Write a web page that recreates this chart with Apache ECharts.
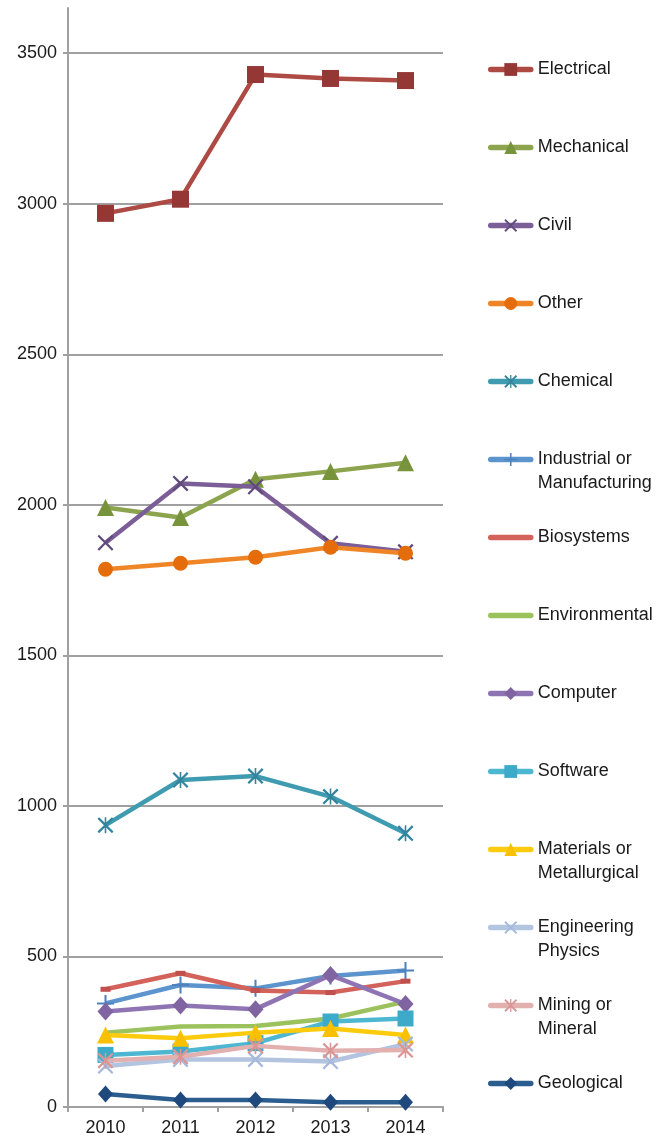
<!DOCTYPE html>
<html>
<head>
<meta charset="utf-8">
<script src="https://cdn.jsdelivr.net/npm/echarts@6/dist/echarts.min.js"></script>
<style>
html,body{margin:0;padding:0;background:#fff;}
#chart{width:665px;height:1140px;}
</style>
</head>
<body>
<div id="chart"></div>
<script>
// ---- data ----
var years = ['2010', '2011', '2012', '2013', '2014'];
var yTicks = [0, 500, 1000, 1500, 2000, 2500, 3000, 3500];
var electrical    = [2968, 3015, 3429, 3416, 3409];
var mechanical    = [1991, 1958, 2085, 2111, 2140];
var civil         = [1874, 2071, 2060, 1872, 1844];
var other         = [1786, 1806, 1826, 1859, 1839];
var chemical      = [936, 1086, 1099, 1031, 909];
var industrial    = [344, 405, 394, 435, 453];
var biosystems    = [391, 444, 387, 380, 418];
var environmental = [247, 267, 269, 294, 350];
var computer      = [317, 337, 325, 438, 342];
var software      = [173, 184, 212, 284, 294];
var materials     = [239, 228, 247, 261, 239];
var engPhysics    = [136, 158, 158, 151, 209];
var mining        = [154, 167, 203, 187, 189];
var geological    = [43, 23, 23, 16, 16];

var seriesNames = ['Electrical', 'Mechanical', 'Civil', 'Other', 'Chemical',
  'Industrial or Manufacturing', 'Biosystems', 'Environmental', 'Computer',
  'Software', 'Materials or Metallurgical', 'Engineering Physics',
  'Mining or Mineral', 'Geological'];
var seriesData = [electrical, mechanical, civil, other, chemical, industrial,
  biosystems, environmental, computer, software, materials, engPhysics, mining, geological];
var legendLabels = {
  'Industrial or Manufacturing': '\nIndustrial or\nManufacturing',
  'Materials or Metallurgical': '\nMaterials or\nMetallurgical',
  'Engineering Physics': '\nEngineering\nPhysics',
  'Mining or Mineral': '\nMining or\nMineral'
};

// ---- styles ----
var X_PATH = 'path://M0,1L1,0L5,4L9,0L10,1L6,5L10,9L9,10L5,6L1,10L0,9L4,5Z';
var STAR_PATH = 'path://M0,1L1,0L5,4L9,0L10,1L6,5L10,9L9,10L5,6L1,10L0,9L4,5Z M4.5,0L5.5,0L5.5,10L4.5,10Z';
var PLUS_PATH = 'path://M4.4,0L5.6,0L5.6,4.4L10,4.4L10,5.6L5.6,5.6L5.6,10L4.4,10L4.4,5.6L0,5.6L0,4.4L4.4,4.4Z';
var styles = [
  {line: '#AD4A43', mark: '#953735', symbol: 'rect', size: 17},
  {line: '#8CA44D', mark: '#77933C', symbol: 'triangle', size: 17},
  {line: '#7B5E97', mark: '#604A7B', symbol: X_PATH, size: 16},
  {line: '#EF8527', mark: '#E46C0A', symbol: 'circle', size: 15},
  {line: '#3F9BB0', mark: '#31859C', symbol: STAR_PATH, size: 16},
  {line: '#5C94CE', mark: '#4F81BD', symbol: PLUS_PATH, size: 17},
  {line: '#D3625B', mark: '#C0504D', symbol: 'rect', size: [10, 5], hideLegendMark: true},
  {line: '#9CC25D', mark: '#9BBB59', symbol: 'none', size: 0, hideLegendMark: true},
  {line: '#8F74B4', mark: '#8064A2', symbol: 'diamond', size: [16, 18]},
  {line: '#4DB7D1', mark: '#3CAAC8', symbol: 'rect', size: 16},
  {line: '#FDCB0E', mark: '#F9C000', symbol: 'triangle', size: 17},
  {line: '#B2C4E0', mark: '#A6B9DA', symbol: X_PATH, size: 16},
  {line: '#E2B0AF', mark: '#D99694', symbol: STAR_PATH, size: 16},
  {line: '#2C5D8F', mark: '#1F497D', symbol: 'diamond', size: [15, 17]}
];

var FONT = '"Liberation Sans", Arial, sans-serif';
var FSIZE = 18;

var series = seriesNames.map(function (name, i) {
  var s = styles[i];
  return {
    name: name,
    type: 'line',
    data: seriesData[i],
    symbol: s.symbol,
    symbolSize: s.size,
    showSymbol: s.symbol !== 'none',
    lineStyle: {color: s.line, width: 4.5},
    itemStyle: {color: s.mark},
    emphasis: {disabled: true},
    z: 2 + i
  };
});

var legendCenters = [];
for (var i = 0; i < seriesNames.length; i++) legendCenters.push(68 + 78 * i);

var legends = seriesNames.map(function (name, i) {
  var multi = !!legendLabels[name];
  var item = styles[i].hideLegendMark ? {name: name, itemStyle: {opacity: 0}} : {name: name};
  return {
    data: [item],
    orient: 'vertical',
    left: 488,
    top: legendCenters[i] - (multi ? 36 : 12),
    padding: 0,
    itemWidth: 40,
    itemHeight: 16,
    itemGap: 0,
    selectedMode: false,
    lineStyle: {width: 5.5, cap: 'round'},
    formatter: function (n) { return legendLabels[n] || n; },
    textStyle: {fontFamily: FONT, fontSize: FSIZE, color: '#1a1a1a', lineHeight: 24, padding: [3, 0, 0, 2]}
  };
});

var chart = echarts.init(document.getElementById('chart'), null, {renderer: 'canvas'});
chart.setOption({
  animation: false,
  backgroundColor: '#ffffff',
  grid: {left: 68, right: 222, top: 8, bottom: 33, containLabel: false},
  legend: legends,
  xAxis: {
    type: 'category',
    data: years,
    boundaryGap: true,
    axisLine: {lineStyle: {color: '#A0A0A0', width: 2}},
    axisTick: {show: true, length: 5, lineStyle: {color: '#A0A0A0', width: 2}},
    axisLabel: {fontFamily: FONT, fontSize: FSIZE, color: '#1a1a1a', margin: 12}
  },
  yAxis: {
    type: 'value',
    min: 0,
    max: 3650,
    axisLine: {show: true, lineStyle: {color: '#A0A0A0', width: 2}},
    axisTick: {show: true, length: 5, lineStyle: {color: '#A0A0A0', width: 2}, customValues: yTicks},
    axisLabel: {fontFamily: FONT, fontSize: FSIZE, color: '#1a1a1a', margin: 11, customValues: yTicks,
      formatter: function (v) { return String(v); }},
    splitLine: {show: true, lineStyle: {color: '#A0A0A0', width: 2}}
  },
  series: series
});
</script>
</body>
</html>
